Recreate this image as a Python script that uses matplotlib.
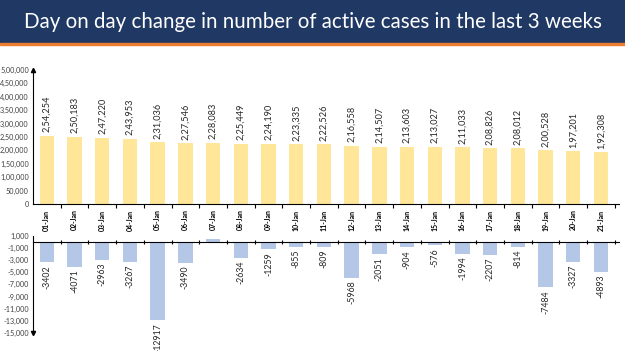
import matplotlib.pyplot as plt
import numpy as np

dates = ['%02d-Jan' % d for d in range(1, 22)]
active = [254254, 250183, 247220, 243953, 231036, 227546, 228083, 225449, 224190, 223335,
          222526, 216558, 214507, 213603, 213027, 211033, 208826, 208012, 200528, 197201, 192308]
change = [-3402, -4071, -2963, -3267, -12917, -3490, 537, -2634, -1259, -855,
          -809, -5968, -2051, -904, -576, -1994, -2207, -814, -7484, -3327, -4893]
top_ticks = list(range(0, 500001, 50000))
bottom_ticks = list(range(-15000, 1001, 2000))


def indian(n):
    s = str(abs(int(n)))
    if len(s) > 3:
        head, tail = s[:-3], s[-3:]
        parts = []
        while len(head) > 2:
            parts.insert(0, head[-2:])
            head = head[:-2]
        if head:
            parts.insert(0, head)
        s = ','.join(parts) + ',' + tail
    return ('-' if n < 0 else '') + s


plt.rcParams['font.family'] = ['Lato', 'DejaVu Sans']
fig = plt.figure(figsize=(6.25, 3.51), dpi=100)

# title banner
fig.patches.append(plt.Rectangle((0, 1 - 43 / 351), 1, 43 / 351, transform=fig.transFigure,
                                 color='#203864', zorder=0))
fig.patches.append(plt.Rectangle((0, 1 - 45 / 351), 1, 2 / 351, transform=fig.transFigure,
                                 color='#ED7D31', zorder=0))
fig.text(0.5, 1 - 22 / 351, 'Day on day change in number of active cases in the last 3 weeks',
         color='white', fontsize=14.8, ha='center', va='center')

x = np.arange(len(dates))
left, right = 33 / 625, 619 / 625

# top chart: active cases
ax = fig.add_axes([left, 147 / 351, right - left, (281 - 147) / 351])
ax.bar(x, active, width=0.52, color='#FFE699')
ax.set_xlim(-0.5, 20.65)
ax.set_ylim(0, 500000)
ax.set_yticks(top_ticks)
ax.set_yticklabels([indian(v) for v in top_ticks], fontsize=5.2, color='#404040')
ax.tick_params(axis='y', length=0, pad=3)
ax.set_xticks(x)
ax.set_xticklabels(dates, rotation=90, fontsize=5, fontweight='bold')
ax.tick_params(axis='x', length=0, pad=4)
ax.set_xticks(list(x[:-1] + 0.5) + [20.5], minor=True)
ax.tick_params(axis='x', which='minor', length=3, direction='out', width=0.8)
for s in ['top', 'right']:
    ax.spines[s].set_visible(False)
ax.spines['left'].set_linewidth(0.8)
ax.spines['bottom'].set_linewidth(0.8)
ax.plot(0, 1, marker='^', color='black', markersize=3, transform=ax.transAxes, clip_on=False)
for xi, v in zip(x, active):
    ax.annotate(indian(v), (xi, v), xytext=(0, 2.5), textcoords='offset points',
                rotation=90, ha='center', va='bottom', fontsize=6.6, color='#262626')

# bottom chart: daily change
ax2 = fig.add_axes([left, 18 / 351, right - left, (115.3 - 18) / 351])
ax2.bar(x, change, width=0.52, color='#B4C7E7')
ax2.set_xlim(-0.5, 20.65)
ax2.set_ylim(-15000, 1000)
ax2.set_yticks(bottom_ticks)
ax2.set_yticklabels([indian(v) for v in bottom_ticks], fontsize=5.2, color='#404040')
ax2.tick_params(axis='y', length=0, pad=3)
ax2.set_xticks([])
ax2.set_xticks(list(x[:-1] + 0.5) + [20.5], minor=True)
ax2.tick_params(axis='x', which='minor', length=3, direction='inout', width=0.8, labelbottom=False)
ax2.spines['bottom'].set_position(('data', 0))
for s in ['top', 'right']:
    ax2.spines[s].set_visible(False)
ax2.spines['left'].set_linewidth(0.8)
ax2.spines['bottom'].set_linewidth(0.8)
ax2.plot(0, 0, marker='v', color='black', markersize=3, transform=ax2.transAxes, clip_on=False)
for xi, v in zip(x, change):
    if v < 0:
        ax2.annotate(str(v), (xi, v), xytext=(0, -2), textcoords='offset points',
                     rotation=90, ha='center', va='top', fontsize=6.3, color='#262626',
                     annotation_clip=False)

fig.savefig('out.png', dpi=100)
